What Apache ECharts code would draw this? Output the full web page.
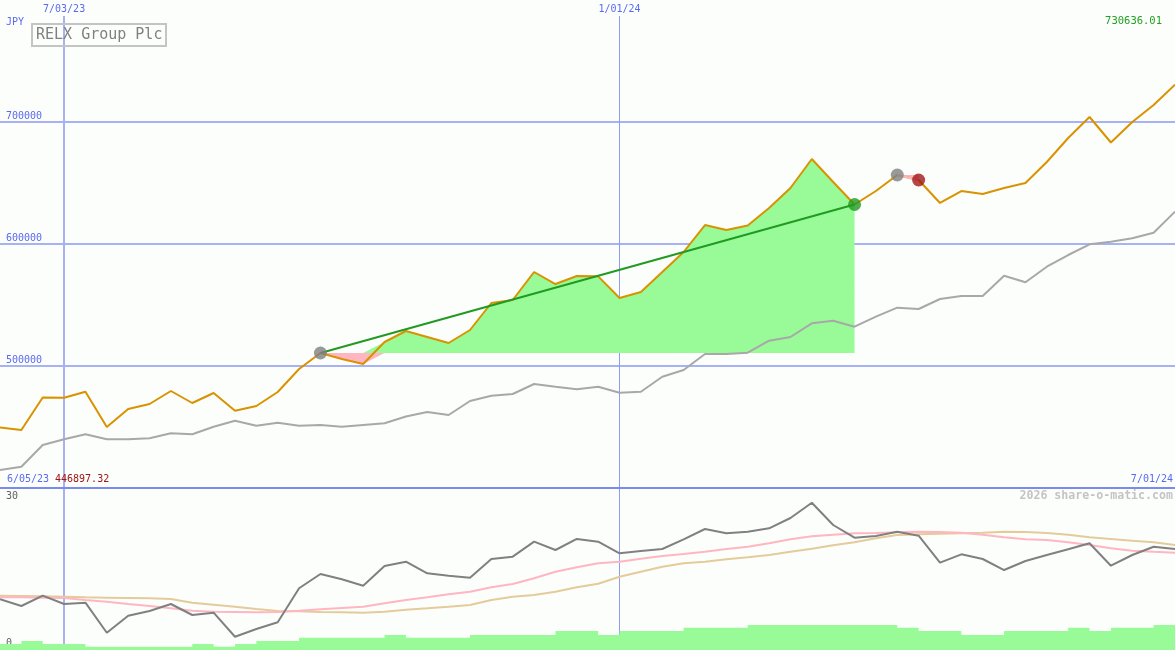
<!DOCTYPE html>
<html>
<head>
<meta charset="utf-8">
<script src="https://cdn.jsdelivr.net/npm/echarts@6/dist/echarts.min.js"></script>
<style>
html,body{margin:0;padding:0;background:#fcfefc;}
#c{width:1175px;height:650px;}
</style>
</head>
<body>
<div id="c"></div>
<script>
// ---------- data ----------
const dates = ['2023-06-12','2023-06-19','2023-06-26','2023-07-03','2023-07-10','2023-07-17','2023-07-24','2023-07-31',
  '2023-08-07','2023-08-14','2023-08-21','2023-08-28','2023-09-04','2023-09-11','2023-09-18','2023-09-25',
  '2023-10-02','2023-10-09','2023-10-16','2023-10-23','2023-10-30','2023-11-06','2023-11-13','2023-11-20',
  '2023-11-27','2023-12-04','2023-12-11','2023-12-18','2023-12-25','2024-01-01','2024-01-08','2024-01-15',
  '2024-01-22','2024-01-29','2024-02-05','2024-02-12','2024-02-19','2024-02-26','2024-03-04','2024-03-11',
  '2024-03-18','2024-03-25','2024-04-01','2024-04-08','2024-04-15','2024-04-22','2024-04-29','2024-05-06',
  '2024-05-13','2024-05-20','2024-05-27','2024-06-03','2024-06-10','2024-06-17','2024-06-24','2024-07-01'];

const price = [449600,447500,474180,474020,478930,450000,464750,468850,479510,469670,477870,463360,467210,478690,
  497540,510660,505740,501640,519670,528690,523770,518850,529510,551640,554100,577050,567210,573770,573500,555740,
  560660,577050,593440,615570,611480,615200,629510,645900,669670,650820,632380,643440,656560,652460,633610,643440,
  640980,645900,650000,667210,686890,704100,683200,700000,713930,730636.01];

const avg = [414750,417460,435250,439920,444020,439920,439920,440740,444840,444020,450250,455160,451070,453520,
  451070,451640,450250,451640,453030,458610,462300,459840,471310,475660,477050,485250,483030,480900,483030,478110,
  478930,491230,496720,509840,509840,510900,520740,523770,534990,537130,532210,540410,547790,546720,554920,557380,
  557380,574020,568610,581390,590980,599750,601890,604670,609260,626480];

const osc = [9.39,8.15,10.06,8.52,8.76,3.20,6.35,7.22,8.52,6.48,6.91,2.46,3.89,5.13,11.43,14.07,13.09,11.91,15.56,
  16.35,14.20,13.76,13.39,16.85,17.28,20.06,18.52,20.56,20.06,17.91,18.33,18.70,20.50,22.41,21.61,21.91,22.54,24.44,
  27.28,23.15,20.80,21.11,21.91,21.17,16.17,17.72,16.85,14.81,16.48,17.59,18.65,19.76,15.61,17.59,19.13,18.70];

const oscFast = [9.76,9.76,9.69,9.63,9.26,8.94,8.52,8.15,7.72,7.28,7.09,7.04,6.98,7.04,7.28,7.54,7.78,8.02,8.65,
  9.26,9.76,10.31,10.80,11.61,12.22,13.28,14.50,15.31,16.06,16.35,16.91,17.41,17.78,18.20,18.70,19.13,19.76,20.50,
  21.06,21.35,21.61,21.67,21.80,21.91,21.85,21.72,21.35,20.87,20.50,20.37,19.94,19.44,18.83,18.39,18.20,18.02];

const oscSlow = [10.06,10.00,9.94,9.87,9.76,9.69,9.63,9.57,9.44,8.76,8.39,8.02,7.59,7.22,7.17,7.04,6.98,6.91,7.09,
  7.46,7.72,8.02,8.33,9.26,9.87,10.19,10.80,11.61,12.28,13.57,14.50,15.43,16.06,16.35,16.80,17.17,17.59,18.20,
  18.76,19.39,19.94,20.69,21.30,21.43,21.54,21.61,21.72,21.91,21.85,21.67,21.35,20.87,20.56,20.24,19.94,19.44];

const volume = [600,900,600,600,330,330,330,330,330,600,330,600,900,900,1230,1230,1230,1230,1500,1230,1230,1230,
  1500,1500,1500,1500,1900,1900,1500,1900,1900,1900,2230,2230,2230,2500,2500,2500,2500,2500,2500,2500,2230,1900,
  1900,1500,1500,1900,1900,1900,2230,1900,2230,2230,2500,2500];

const tradeEntry = [15, 42];
const tradeExit  = [40, 43];

const gridDates = ['2023-07-03', '2024-01-01'];
const priceAxis = {min: 400000, max: 800000, interval: 100000};
const oscAxis = {min: 0, max: 30, interval: 30};
const volumeAxisMax = 16200;

const titleText = 'RELX Group Plc';
const currencyText = 'JPY';
const lastText = '730636.01';
const startDateText = '6/05/23';
const lowText = '446897.32';
const endDateText = '7/01/24';
const creditText = '2026 share-o-matic.com';

// ---------- chart ----------
const FONT = '"DejaVu Sans Mono", monospace';
const BLUE = '#5a6af0';
const GRID_BLUE = '#a6b2f4';
const GREEN_FILL = '#98fb98';
const PINK_FILL = '#ffb6c1';
const fmtDate = s => { const p = s.split('-'); return (+p[1]) + '/' + p[2] + '/' + p[0].slice(2); };

const series = [];

// moving average
series.push({type:'line', xAxisIndex:0, yAxisIndex:0, data:avg, symbol:'none', silent:true,
  lineStyle:{color:'#a8a8a8', width:2}, z:3});

// trade fills (stacked: invisible lower edge + coloured band)
tradeEntry.forEach((e, k) => {
  const x = tradeExit[k];
  const base = price[e];
  const inR = i => i >= e && i <= x;
  series.push({type:'line', xAxisIndex:0, yAxisIndex:0, symbol:'none', silent:true, z:2, stack:'gain' + k,
    data: price.map((v, i) => inR(i) ? base : null), lineStyle:{width:0, opacity:0}});
  series.push({type:'line', xAxisIndex:0, yAxisIndex:0, symbol:'none', silent:true, z:2, stack:'gain' + k,
    data: price.map((v, i) => inR(i) ? Math.max(v, base) - base : null),
    lineStyle:{width:0, opacity:0}, areaStyle:{color:GREEN_FILL, opacity:1}});
  series.push({type:'line', xAxisIndex:0, yAxisIndex:0, symbol:'none', silent:true, z:2, stack:'loss' + k,
    data: price.map((v, i) => inR(i) ? Math.min(v, base) : null), lineStyle:{width:0, opacity:0}});
  series.push({type:'line', xAxisIndex:0, yAxisIndex:0, symbol:'none', silent:true, z:2, stack:'loss' + k,
    data: price.map((v, i) => inR(i) ? base - Math.min(v, base) : null),
    lineStyle:{width:0, opacity:0}, areaStyle:{color:PINK_FILL, opacity:1}});
});

// price
series.push({type:'line', xAxisIndex:0, yAxisIndex:0, data:price, symbol:'none', silent:true,
  lineStyle:{color:'#d99200', width:2}, z:4});

// trend lines
tradeEntry.forEach((e, k) => {
  const x = tradeExit[k];
  const win = price[x] >= price[e];
  series.push({type:'line', xAxisIndex:0, yAxisIndex:0, symbol:'none', silent:true, connectNulls:true, z:5,
    data: price.map((v, i) => (i === e || i === x) ? v : null),
    lineStyle:{color: win ? '#229a22' : PINK_FILL, width:2}});
});

// markers
const markers = [];
tradeEntry.forEach((e, k) => {
  const x = tradeExit[k];
  const win = price[x] >= price[e];
  markers.push({value:[e, price[e]], itemStyle:{color:'#808080'}});
  markers.push({value:[x, price[x]], itemStyle:{color: win ? '#229a22' : '#a01818'}});
});
series.push({type:'scatter', xAxisIndex:0, yAxisIndex:0, data:markers, symbolSize:13, silent:true, z:6});

// lower panel
series.push({type:'line', xAxisIndex:1, yAxisIndex:3, data:volume, step:'end', symbol:'none', silent:true,
  lineStyle:{width:0, opacity:0}, areaStyle:{color:GREEN_FILL, opacity:1}, z:2});
series.push({type:'line', xAxisIndex:1, yAxisIndex:1, data:oscSlow, symbol:'none', silent:true,
  lineStyle:{color:'#e4cb9a', width:2}, z:3});
series.push({type:'line', xAxisIndex:1, yAxisIndex:1, data:oscFast, symbol:'none', silent:true,
  lineStyle:{color:'#ffb6c1', width:2}, z:3});
series.push({type:'line', xAxisIndex:1, yAxisIndex:1, data:osc, symbol:'none', silent:true,
  lineStyle:{color:'#808080', width:2}, z:4});

const dateAxis = (d, width, color) => ({
  gridIndex:2, type:'category', data:dates, boundaryGap:false, position:'top',
  axisLine:{show:false}, axisTick:{show:false},
  axisLabel:{interval:(i, v) => v === d, formatter: fmtDate, color:BLUE, fontFamily:FONT, fontSize:10, margin:2},
  splitLine:{show:true, interval:(i, v) => v === d, lineStyle:{color:color, width:width}}
});

const txt = (text, pos, color, size, weight) => Object.assign({
  text, padding:0, itemGap:0,
  textStyle:{color, fontFamily:FONT, fontSize:size, fontWeight: weight || 'normal'}
}, pos);

const option = {
  animation:false,
  backgroundColor:'#fcfefc',
  grid:[
    {left:0, right:0, top:0, height:488},
    {left:0, right:0, top:488, height:162},
    {left:0, right:0, top:16, bottom:0}
  ],
  xAxis:[
    {gridIndex:0, type:'category', data:dates, boundaryGap:false,
      axisLine:{show:true, lineStyle:{color:'#7b8aee', width:2}}, axisTick:{show:false}, axisLabel:{show:false},
      splitLine:{show:false}},
    {gridIndex:1, type:'category', data:dates, boundaryGap:false, show:false},
    dateAxis(gridDates[0], 2, GRID_BLUE),
    dateAxis(gridDates[1], 1, '#8e9cf2')
  ],
  yAxis:[
    {gridIndex:0, type:'value', position:'left', min:priceAxis.min, max:priceAxis.max, interval:priceAxis.interval,
      axisLine:{show:false}, axisTick:{show:false},
      axisLabel:{inside:true, showMinLabel:false, showMaxLabel:false, verticalAlign:'bottom', margin:6,
        formatter: v => String(v), color:BLUE, fontFamily:FONT, fontSize:10, padding:[0,0,1,0]},
      splitLine:{show:true, lineStyle:{color:['rgba(0,0,0,0)', GRID_BLUE, GRID_BLUE, GRID_BLUE, 'rgba(0,0,0,0)'], width:2}}},
    {gridIndex:1, type:'value', position:'left', min:oscAxis.min, max:oscAxis.max, interval:oscAxis.interval,
      axisLine:{show:false}, axisTick:{show:false}, splitLine:{show:false},
      axisLabel:{inside:true, showMinLabel:false, verticalAlign:'top', margin:6, padding:[3,0,0,0],
        color:'#606060', fontFamily:FONT, fontSize:10}},
    {gridIndex:1, type:'value', position:'left', min:oscAxis.min, max:oscAxis.max, interval:oscAxis.interval,
      axisLine:{show:false}, axisTick:{show:false}, splitLine:{show:false},
      axisLabel:{inside:true, showMaxLabel:false, verticalAlign:'bottom', margin:6, padding:[0,0,2,0],
        color:'#606060', fontFamily:FONT, fontSize:10}},
    {gridIndex:1, type:'value', position:'left', min:0, max:volumeAxisMax, show:false},
    {gridIndex:2, type:'value', position:'left', show:false}
  ],
  title:[
    txt(currencyText, {left:6, top:17}, BLUE, 10),
    {text:titleText, left:32, top:24, padding:[4,4,3,4], borderColor:'#c4c4c4', borderWidth:2,
      textStyle:{color:'#808080', fontFamily:FONT, fontSize:15, fontWeight:'normal', lineHeight:15}},
    txt(lastText, {right:13, top:16}, '#22a022', 10.5),
    txt(startDateText, {left:7, top:474}, BLUE, 10),
    txt(lowText, {left:55, top:474}, '#a01414', 10),
    txt(endDateText, {right:2, top:474}, BLUE, 10),
    txt(creditText, {right:2, top:490}, '#c4c4c4', 11.6, 'bold')
  ],
  series
};

const chart = echarts.init(document.getElementById('c'));
chart.setOption(option);
</script>
</body>
</html>
